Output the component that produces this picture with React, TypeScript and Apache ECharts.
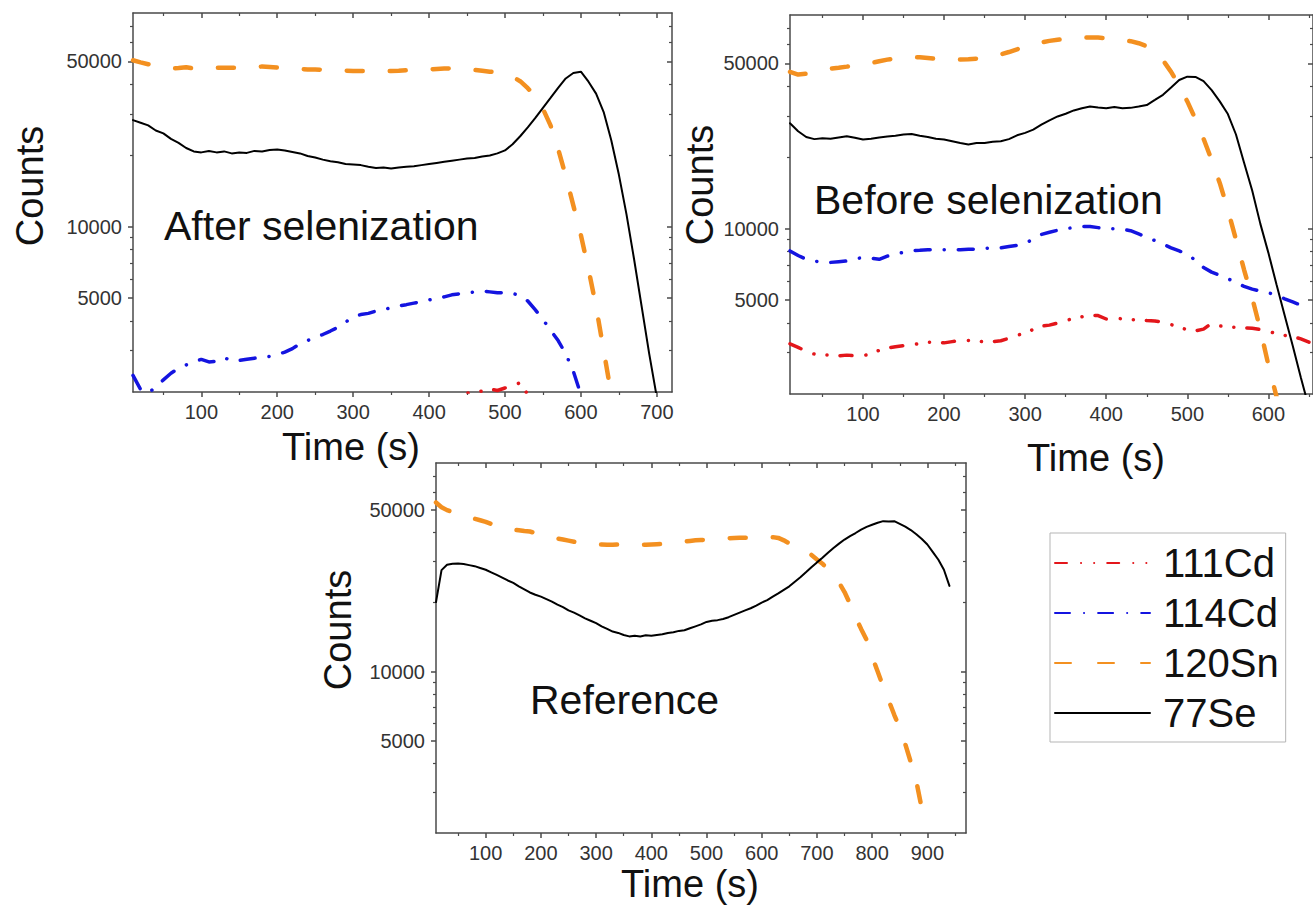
import React, { useEffect, useRef } from "react";
import * as echarts from "echarts";

const FONT = "'Liberation Sans', Arial, Helvetica, sans-serif";

// Shared time stamps (s); every series pairs its values with these by index
const TIME = [
  10, 20, 30, 40, 50, 60, 70, 80, 90, 100,
  110, 120, 130, 140, 150, 160, 170, 180, 190, 200,
  210, 220, 230, 240, 250, 260, 270, 280, 290, 300,
  310, 320, 330, 340, 350, 360, 370, 380, 390, 400,
  410, 420, 430, 440, 450, 460, 470, 480, 490, 500,
  510, 520, 530, 540, 550, 560, 570, 580, 590, 600,
  610, 620, 630, 640, 650, 660, 670, 680, 690, 700,
  710, 720, 730, 740, 750, 760, 770, 780, 790, 800,
  810, 820, 830, 840, 850, 860, 870, 880, 890, 900,
  910, 920, 930, 940,
];

const SERIES_NAMES = ["111Cd", "114Cd", "120Sn", "77Se"];

// ---- After selenization ----
const afterSe = [
  28200, 27500, 26800, 25500, 24800, 23500, 22600, 21500, 20800, 20600,
  20900, 20600, 20800, 20400, 20600, 20500, 20900, 20800, 21100, 21200,
  21000, 20700, 20400, 19900, 19600, 19200, 18900, 18700, 18400, 18300,
  18200, 17900, 17700, 17800, 17600, 17800, 17900, 18000, 18200, 18400,
  18600, 18800, 19000, 19200, 19400, 19500, 19800, 20000, 20400, 21000,
  22300, 24100, 26300, 28800, 31800, 35000, 38600, 42300, 44600, 45200,
  41000, 36500, 30500, 23200, 16600, 11300, 7300, 4600, 2900, 1900,
];
const afterSn = [
  50500, 49500, 48600, 47800, 47200, 46700, 46800, 47200, 46600, 46500,
  46800, 47000, 47000, 46900, 46900, 47000, 47300, 47500, 47300, 47000,
  46700, 46500, 46300, 46200, 46200, 46000, 45800, 45700, 45600, 45500,
  45500, 45400, 45400, 45500, 45500, 45600, 45800, 46000, 46100, 46200,
  46400, 46600, 46700, 46600, 46400, 46000, 45600, 45200, 44900, 44300,
  43000, 41200, 38500, 35500, 31500, 26800, 21300, 16400, 12300, 9200,
  6600, 4600, 3000, 1950,
];
const afterCd114 = [
  2350, 2050, 1980, 2100, 2250, 2400, 2520, 2600, 2680, 2750,
  2680, 2700, 2800, 2700, 2720, 2750, 2780, 2800, 2830, 2880,
  2950, 3050, 3200, 3300, 3400, 3500, 3620, 3750, 3950, 4150,
  4250, 4300, 4400, 4450, 4550, 4620, 4680, 4750, 4820, 4900,
  4980, 5050, 5150, 5200, 5250, 5300, 5350, 5300, 5250, 5250,
  5230, 5100, 4850, 4450, 4050, 3650, 3300, 2900, 2450, 1950,
];
// 111Cd after selenization only shows between 420 s and 550 s
const afterCd111Start = 41; // index into TIME (420 s)
const afterCd111 = [1800, 1880, 1950, 1980, 1990, 2020, 2060, 2030, 2080, 2120, 2190, 1950, 1850, 1800];

// ---- Before selenization ----
const beforeSe = [
  27900, 25800, 24400, 23900, 24100, 24000, 24300, 24600, 24200, 23800,
  24000, 24300, 24500, 24700, 25000, 25100, 24700, 24400, 24000, 23800,
  23400, 23000, 22700, 23000, 23000, 23300, 23400, 23900, 24800, 25400,
  26200, 27500, 28700, 29800, 30600, 31600, 32300, 32800, 32500, 32300,
  32700, 32300, 32400, 32800, 33300, 35000, 36800, 39500, 42500, 43900,
  43800, 42000, 38500, 34500, 30500, 25000, 19000, 14500, 10500, 7900,
  5800, 4300, 3200, 2350, 1750,
];
const beforeSn = [
  46000, 44800, 45200, 46000, 46800, 47500, 47900, 48400, 49000, 49600,
  50200, 51000, 51800, 52500, 52900, 53000, 53000, 52600, 52200, 51900,
  51800, 51900, 52000, 52300, 52800, 53600, 54500, 55800, 57300, 59000,
  60300, 61300, 62200, 62900, 63300, 63700, 64100, 64300, 64200, 63800,
  63300, 62700, 62000, 60800, 59000, 55800, 51500, 46000, 40200, 34500,
  29000, 24000, 19500, 15600, 12000, 9000, 6700, 5100, 3750, 2650,
  1950,
];
const beforeCd114 = [
  8050, 7700, 7420, 7300, 7200, 7200, 7250, 7300, 7450, 7550,
  7500, 7420, 7650, 7800, 7950, 8080, 8100, 8150, 8150, 8150,
  8150, 8150, 8180, 8200, 8250, 8300, 8300, 8400, 8500, 8650,
  9050, 9450, 9650, 9850, 10000, 10100, 10200, 10200, 10100, 10000,
  10000, 9950, 9800, 9500, 9200, 8900, 8600, 8300, 8050, 7800,
  7350, 6850, 6550, 6350, 6150, 5900, 5700, 5550, 5450, 5350,
  5250, 5050, 4900, 4750, 4620,
];
const beforeCd111 = [
  3260, 3150, 3030, 2950, 2930, 2920, 2900, 2920, 2900, 2900,
  2960, 3060, 3130, 3170, 3200, 3210, 3280, 3310, 3300, 3290,
  3330, 3370, 3370, 3350, 3320, 3330, 3360, 3440, 3540, 3620,
  3750, 3870, 3910, 3990, 4080, 4180, 4240, 4290, 4290, 4150,
  4180, 4160, 4120, 4120, 4090, 4070, 4020, 3930, 3820, 3740,
  3700, 3760, 3980, 3880, 3830, 3830, 3810, 3790, 3750, 3680,
  3600, 3540, 3500, 3420, 3310,
];

// ---- Reference ----
const refSe = [
  20000, 27500, 29000, 29300, 29400, 29200, 28900, 28600, 28100, 27600,
  26900, 26200, 25500, 24800, 24200, 23400, 22700, 22000, 21500, 21100,
  20600, 20100, 19500, 19000, 18400, 18000, 17500, 17000, 16600, 16200,
  15700, 15300, 14900, 14700, 14400, 14200, 14300, 14200, 14350, 14300,
  14400, 14500, 14700, 14800, 15000, 15100, 15400, 15700, 16000, 16400,
  16600, 16700, 16900, 17200, 17600, 18000, 18400, 18800, 19300, 19900,
  20400, 21100, 21800, 22600, 23400, 24500, 25600, 26900, 28300, 29700,
  31100, 32700, 34300, 35800, 37300, 38600, 39800, 41200, 42300, 43200,
  44100, 44800, 44600, 44800, 43600, 42400, 41000, 39300, 37500, 35500,
  32900, 30500, 27600, 23500,
];
const refSn = [
  54000, 51500, 50000, 49000, 48000, 47300, 46600, 45900, 45200, 44500,
  43600, 42800, 42000, 41500, 41200, 40900, 40600, 40400, 39800, 39200,
  38700, 38200, 37700, 37300, 36900, 36500, 36100, 35800, 35600, 35500,
  35500, 35400, 35400, 35500, 35500, 35400, 35400, 35400, 35400, 35500,
  35600, 35700, 35900, 36100, 36400, 36600, 36800, 37000, 37100, 37200,
  37400, 37600, 37700, 37800, 37900, 38000, 38000, 38000, 38100, 38100,
  38200, 38200, 37900, 37000, 35900, 35000, 34200, 33000, 32000, 30600,
  29300, 27800, 26300, 24300, 22100, 19600, 17200, 15300, 13700, 11600,
  10000, 8600, 7500, 6500, 5700, 4850, 4050, 3350, 2550,
];

// Axis ticks / labels
const Y_MIN = 2000;
const Y_MAX = 80000;
const Y_LABELS = [5000, 10000, 50000];
const Y_MINOR = [3000, 4000, 6000, 7000, 8000, 9000, 20000, 30000, 40000, 60000, 70000];
const X_LABELS_SHORT = [100, 200, 300, 400, 500, 600, 700];
const X_LABELS_LONG = [100, 200, 300, 400, 500, 600, 700, 800, 900];
const X_MINOR = [50, 150, 250, 350, 450, 550, 650, 750, 850, 950];

const COLORS = { cd111: "#e3161b", cd114: "#1414e0", sn120: "#f39020", se77: "#000000" };
const AX = "#4a4a4a";

function pair(values: number[], start = 0) {
  return values.map((v, i) => [TIME[start + i], v]);
}

function xAxes(gi: number, min: number, max: number, labels: number[]) {
  const base = {
    type: "value" as const,
    gridIndex: gi,
    min,
    max,
    splitLine: { show: false },
  };
  const line = { show: true, onZero: false, lineStyle: { color: AX, width: 1.5 } };
  return [
    {
      ...base,
      position: "bottom",
      axisLine: line,
      axisTick: { show: true, inside: false, length: 5, customValues: labels, lineStyle: { color: AX, width: 1.5 } },
      axisLabel: {
        show: true,
        customValues: labels,
        margin: 10,
        fontSize: 20,
        color: "#333",
        fontFamily: FONT,
      },
    },
    {
      ...base,
      position: "bottom",
      axisLine: { show: false, onZero: false },
      axisTick: { show: true, inside: false, length: 3, customValues: X_MINOR, lineStyle: { color: AX, width: 1.2 } },
      axisLabel: { show: false },
    },
    {
      ...base,
      position: "top",
      axisLine: line,
      axisTick: { show: true, inside: true, length: 5, customValues: labels, lineStyle: { color: AX, width: 1.5 } },
      axisLabel: { show: false },
    },
    {
      ...base,
      position: "top",
      axisLine: { show: false, onZero: false },
      axisTick: { show: true, inside: true, length: 3, customValues: X_MINOR, lineStyle: { color: AX, width: 1.2 } },
      axisLabel: { show: false },
    },
  ];
}

function yAxes(gi: number) {
  const base = {
    type: "log" as const,
    logBase: 10,
    gridIndex: gi,
    min: Y_MIN,
    max: Y_MAX,
    splitLine: { show: false },
    minorSplitLine: { show: false },
  };
  const line = { show: true, onZero: false, lineStyle: { color: AX, width: 1.5 } };
  return [
    {
      ...base,
      position: "left",
      axisLine: line,
      axisTick: { show: true, inside: false, length: 5, customValues: Y_LABELS, lineStyle: { color: AX, width: 1.5 } },
      axisLabel: {
        show: true,
        customValues: Y_LABELS,
        margin: 11,
        fontSize: 20,
        color: "#333",
        fontFamily: FONT,
        formatter: (v: number) => String(Math.round(v)),
      },
    },
    {
      ...base,
      position: "left",
      axisLine: { show: false, onZero: false },
      axisTick: { show: true, inside: false, length: 3, customValues: Y_MINOR, lineStyle: { color: AX, width: 1.2 } },
      axisLabel: { show: false },
    },
    {
      ...base,
      position: "right",
      axisLine: line,
      axisTick: { show: true, inside: true, length: 5, customValues: Y_LABELS, lineStyle: { color: AX, width: 1.5 } },
      axisLabel: { show: false },
    },
    {
      ...base,
      position: "right",
      axisLine: { show: false, onZero: false },
      axisTick: { show: true, inside: true, length: 3, customValues: Y_MINOR, lineStyle: { color: AX, width: 1.2 } },
      axisLabel: { show: false },
    },
  ];
}

const STYLE: Record<string, any> = {
  "111Cd": { color: COLORS.cd111, width: 3.5, type: [12, 14, 0.1, 13, 0.1, 13], cap: "round" },
  "114Cd": { color: COLORS.cd114, width: 3.5, type: [15, 14, 0.1, 14], cap: "round" },
  "120Sn": { color: COLORS.sn120, width: 4.5, type: [16, 27], cap: "round" },
  "77Se": { color: COLORS.se77, width: 2, type: "solid", cap: "round" },
};

function line(name: string, axisIdx: number, data: number[][]) {
  return {
    name,
    type: "line",
    xAxisIndex: axisIdx,
    yAxisIndex: axisIdx,
    data,
    showSymbol: false,
    symbol: "none",
    clip: true,
    color: STYLE[name].color,
    lineStyle: STYLE[name],
    emphasis: { disabled: true },
    z: name === "77Se" ? 4 : 3,
  };
}

function txt(text: string, x: number, y: number, size: number, rotate = 0, align = "center") {
  return {
    type: "text",
    x,
    y,
    rotation: rotate,
    silent: true,
    style: {
      text,
      x: 0,
      y: 0,
      align,
      verticalAlign: "middle",
      textAlign: align,
      textVerticalAlign: "middle",
      fill: "#111",
      font: `${size}px ${FONT}`,
    },
  };
}

export default function App() {
  const ref = useRef<HTMLDivElement>(null);

  useEffect(() => {
    if (!ref.current) return;
    const chart = echarts.init(ref.current, undefined, { renderer: "svg" });

    const option = {
      animation: false,
      backgroundColor: "#ffffff",
      textStyle: { fontFamily: FONT },
      grid: [
        { left: 133, top: 13, width: 539, height: 379, show: false },
        { left: 790, top: 15, width: 526, height: 379, show: false },
        { left: 436, top: 463, width: 530, height: 370, show: false },
      ],
      xAxis: [
        ...xAxes(0, 10, 720, X_LABELS_SHORT),
        ...xAxes(1, 10, 655, X_LABELS_SHORT),
        ...xAxes(2, 10, 970, X_LABELS_LONG),
      ],
      yAxis: [...yAxes(0), ...yAxes(1), ...yAxes(2)],
      legend: {
        data: SERIES_NAMES,
        orient: "vertical",
        left: 1050,
        top: 533,
        itemWidth: 95,
        itemHeight: 14,
        itemGap: 10,
        padding: [10, 7, 9, 4],
        borderColor: "#b5b5b5",
        borderWidth: 1,
        selectedMode: false,
        itemStyle: { opacity: 0 },
        textStyle: { fontSize: 40, color: "#111", fontFamily: FONT, padding: [0, 0, 0, 8] },
      },
      series: [
        // After selenization (grid 0 -> axis index 0)
        line("111Cd", 0, pair(afterCd111, afterCd111Start)),
        line("114Cd", 0, pair(afterCd114)),
        line("120Sn", 0, pair(afterSn)),
        line("77Se", 0, pair(afterSe)),
        // Before selenization (grid 1 -> axis index 4)
        line("111Cd", 4, pair(beforeCd111)),
        line("114Cd", 4, pair(beforeCd114)),
        line("120Sn", 4, pair(beforeSn)),
        line("77Se", 4, pair(beforeSe)),
        // Reference (grid 2 -> axis index 8)
        line("120Sn", 8, pair(refSn)),
        line("77Se", 8, pair(refSe)),
      ],
      graphic: [
        txt("Counts", 30, 186, 38, Math.PI / 2),
        txt("Time (s)", 351, 447, 38),
        txt("After selenization", 164, 226, 41, 0, "left"),
        txt("Counts", 700, 185, 38, Math.PI / 2),
        txt("Time (s)", 1096, 458, 38),
        txt("Before selenization", 814, 200, 41, 0, "left"),
        txt("Counts", 338, 630, 38, Math.PI / 2),
        txt("Time (s)", 690, 884, 38),
        txt("Reference", 530, 700, 41, 0, "left"),
      ],
    };

    chart.setOption(option as any);
    return () => chart.dispose();
  }, []);

  return (
    <div
      ref={ref}
      style={{ position: "fixed", left: 0, top: 0, width: 1313, height: 908, background: "#fff" }}
    />
  );
}
